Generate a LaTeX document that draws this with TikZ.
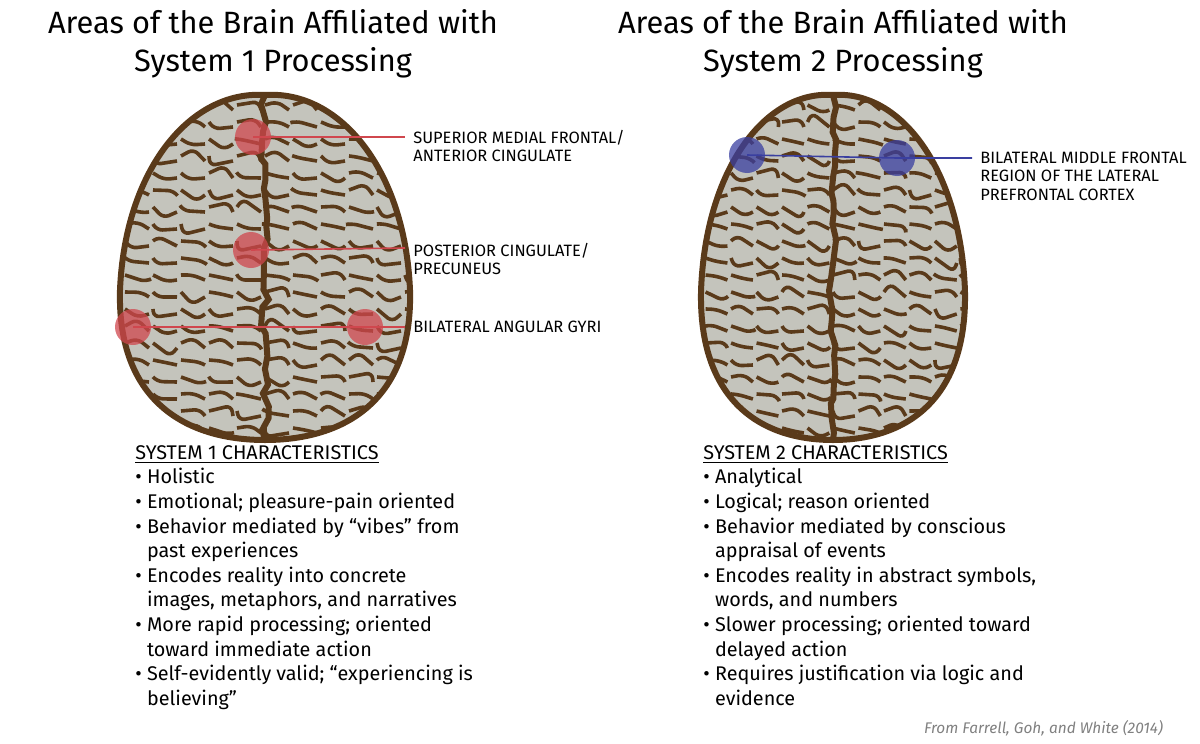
\documentclass[tikz,border=0pt]{standalone}
\usepackage{fontspec}
\setmainfont{Fira Sans}
\usetikzlibrary{decorations.pathmorphing, positioning, calc}
\definecolor{brainbrown}{HTML}{5A3A1A}
\definecolor{braingray}{HTML}{C4C4BC}
\definecolor{spotred}{HTML}{D0474E}
\definecolor{spotblue}{HTML}{3A3FA0}
\newcommand{\brainpath}{(0,95) .. controls (75,90) and (140,170) .. (145,290) .. controls (148,400) and (80,440) .. (0,440) .. controls (-80,440) and (-148,400) .. (-145,290) .. controls (-140,170) and (-75,90) .. (0,95) -- cycle}
\tikzset{
  title/.style={font=\fontsize{15.4}{19}\selectfont, align=center},
  region/.style={font=\fontsize{8.2}{9.2}\selectfont, align=left, anchor=west, inner sep=0pt},
  traits/.style={font=\fontsize{9.9}{12.3}\selectfont, align=left, anchor=north west, inner sep=0pt},
  gyrus/.style={brainbrown, line width=1.8pt, decorate, decoration={random steps, segment length=6pt, amplitude=5pt}, rounded corners=3pt},
  spot/.style={circle, minimum size=18pt, inner sep=0pt, opacity=0.75},
}
\newcommand{\drawbrain}[2]{%
  \begin{scope}[shift={(#1,0)}, xscale=#2]
    \fill[brainbrown] \brainpath;
    \begin{scope}
      \clip \brainpath;
      \fill[braingray] (-150,90) rectangle (150,445);
      \foreach \r in {105,122,...,435}
        \foreach \c in {-140,-112,...,140}
          \draw[gyrus] (\c,\r) -- ++(24,5);
      \draw[brainbrown, line width=3pt, decorate, decoration={random steps, segment length=6pt, amplitude=2pt}] (0,95) -- (0,440);
    \end{scope}
    \draw[brainbrown, line width=3pt] \brainpath;
  \end{scope}}
\begin{document}
\begin{tikzpicture}[x=0.5pt, y=-0.5pt]
\useasboundingbox (0,0) rectangle (1200,744);
\pgfmathsetseed{42}
% titles
\node[title] (title1) at (273,44) {Areas of the Brain Affiliated with\\System 1 Processing};
\node[title] (title2) at (843,44) {Areas of the Brain Affiliated with\\System 2 Processing};
% brains
\drawbrain{265}{1}
\drawbrain{833}{0.91}
% system 1 regions
\node[spot, fill=spotred] (smf) at (253,137) {};
\node[spot, fill=spotred] (pcc) at (251,250) {};
\node[spot, fill=spotred] (angl) at (133,327) {};
\node[spot, fill=spotred] (angr) at (365,327) {};
\node[region] (lsmf) at (413,146) {SUPERIOR MEDIAL FRONTAL/\\ANTERIOR CINGULATE};
\node[region] (lpcc) at (413,259) {POSTERIOR CINGULATE/\\PRECUNEUS};
\node[region] (lang) at (413,327) {BILATERAL ANGULAR GYRI};
\draw[spotred, line width=0.8pt] (smf.center) -- (405,137);
\draw[spotred, line width=0.8pt] (pcc.center) -- (405,248);
\draw[spotred, line width=0.8pt] (angl.center) -- (405,327);
% system 2 regions
\node[spot, fill=spotblue] (mfl) at (747,155) {};
\node[spot, fill=spotblue] (mfr) at (897,158) {};
\node[region] (lmf) at (980,176) {BILATERAL MIDDLE FRONTAL\\REGION OF THE LATERAL\\PREFRONTAL CORTEX};
\draw[spotblue, line width=0.8pt] (mfl.center) -- (mfr.center) -- (972,158);
% characteristics
\node[traits] (sys1) at (135,445) {\underline{SYSTEM 1 CHARACTERISTICS}\\
• Holistic\\
• Emotional; pleasure-pain oriented\\
• Behavior mediated by “vibes” from\\
\phantom{• }past experiences\\
• Encodes reality into concrete\\
\phantom{• }images, metaphors, and narratives\\
• More rapid processing; oriented\\
\phantom{• }toward immediate action\\
• Self-evidently valid; “experiencing is\\
\phantom{• }believing”};
\node[traits] (sys2) at (703,445) {\underline{SYSTEM 2 CHARACTERISTICS}\\
• Analytical\\
• Logical; reason oriented\\
• Behavior mediated by conscious\\
\phantom{• }appraisal of events\\
• Encodes reality in abstract symbols,\\
\phantom{• }words, and numbers\\
• Slower processing; oriented toward\\
\phantom{• }delayed action\\
• Requires justification via logic and\\
\phantom{• }evidence};
\node[font=\fontsize{7.7}{9}\selectfont\itshape, text=gray, anchor=east] (src) at (1170,728) {From Farrell, Goh, and White (2014)};
\end{tikzpicture}
\end{document}
